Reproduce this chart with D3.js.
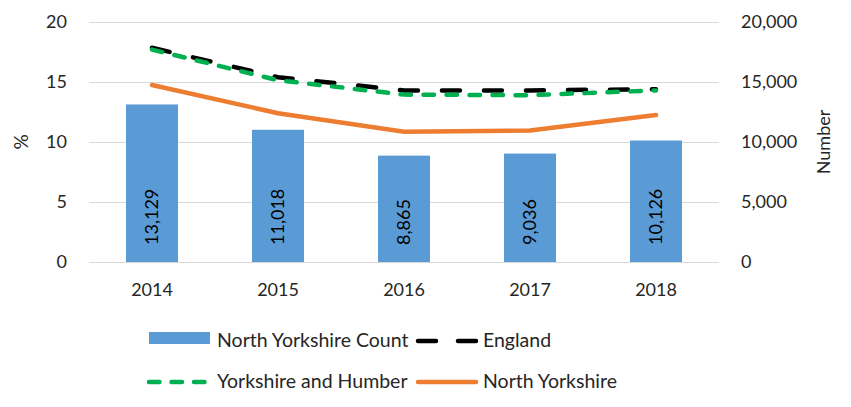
<!DOCTYPE html>
<html>
<head>
<meta charset="utf-8">
<script src="https://cdn.jsdelivr.net/npm/d3@7"></script>
<style>
  body { margin: 0; background: #fff; }
  text { font-family: Lato, "Open Sans", sans-serif; fill: #262626; }
</style>
</head>
<body>
<svg id="chart" width="851" height="407"></svg>
<script>
// data
const years = ["2014", "2015", "2016", "2017", "2018"];
const nyCount = [13129, 11018, 8865, 9036, 10126];
const england = [17.85, 15.4, 14.3, 14.3, 14.4];
const yorksHumber = [17.7, 15.15, 13.95, 13.9, 14.3];
const northYorks = [14.75, 12.4, 10.85, 10.95, 12.25];
const leftTicks = [0, 5, 10, 15, 20];
const rightTicks = [0, 5000, 10000, 15000, 20000];

const svg = d3.select("#chart");

const x = d3.scaleBand().domain(years).range([89, 719]).padding(0);
const yL = d3.scaleLinear().domain([0, 20]).range([262, 22]);
const yR = d3.scaleLinear().domain([0, 20000]).range([262, 22]);
const fmt = d3.format(",");

// gridlines
svg.append("g")
  .attr("transform", "translate(89,0)")
  .call(d3.axisLeft(yL).tickValues(leftTicks).tickSize(-630).tickFormat(""))
  .call(g => g.select(".domain").remove())
  .call(g => g.selectAll("line").attr("stroke", "#d9d9d9"));

// left axis labels
svg.append("g")
  .attr("transform", "translate(89,0)")
  .call(d3.axisLeft(yL).tickValues(leftTicks).tickSize(0).tickPadding(22))
  .call(g => g.select(".domain").remove())
  .call(g => g.selectAll("text").attr("font-size", 18).attr("fill", "#262626")
    .style("font-family", "Lato, sans-serif"));

// right axis labels
svg.append("g")
  .attr("transform", "translate(719,0)")
  .call(d3.axisRight(yR).tickValues(rightTicks).tickSize(0).tickPadding(22).tickFormat(fmt))
  .call(g => g.select(".domain").remove())
  .call(g => g.selectAll("text").attr("font-size", 18).attr("fill", "#262626")
    .style("font-family", "Lato, sans-serif"));

// x axis labels
svg.append("g")
  .attr("transform", "translate(0,262)")
  .call(d3.axisBottom(x).tickSize(0).tickPadding(21))
  .call(g => g.select(".domain").remove())
  .call(g => g.selectAll("text").attr("font-size", 18).attr("fill", "#262626")
    .style("font-family", "Lato, sans-serif"));

// axis titles
svg.append("text")
  .attr("transform", "translate(28,142) rotate(-90)")
  .attr("text-anchor", "middle")
  .attr("font-size", 19)
  .text("%");
svg.append("text")
  .attr("transform", "translate(830,142) rotate(-90)")
  .attr("text-anchor", "middle")
  .attr("font-size", 18)
  .text("Number");

// bars
const barW = 52;
svg.append("g").selectAll("rect")
  .data(nyCount)
  .join("rect")
  .attr("x", (d, i) => x(years[i]) + x.bandwidth() / 2 - barW / 2)
  .attr("y", d => yR(d))
  .attr("width", barW)
  .attr("height", d => yR(0) - yR(d))
  .attr("fill", "#5b9bd5");

// bar labels
svg.append("g").selectAll("text")
  .data(nyCount)
  .join("text")
  .attr("transform", (d, i) => `translate(${x(years[i]) + x.bandwidth() / 2 + 6},${yR(0) - 17}) rotate(-90)`)
  .attr("font-size", 18)
  .style("fill", "#000")
  .text(d => fmt(d));

// lines
const line = d3.line()
  .x((d, i) => x(years[i]) + x.bandwidth() / 2)
  .y(d => yL(d));

svg.append("path")
  .datum(england)
  .attr("d", line)
  .attr("fill", "none")
  .attr("stroke", "#000")
  .attr("stroke-width", 4.5)
  .attr("stroke-linecap", "round")
  .attr("stroke-dasharray", "18 24");

svg.append("path")
  .datum(yorksHumber)
  .attr("d", line)
  .attr("fill", "none")
  .attr("stroke", "#00b050")
  .attr("stroke-width", 4.5)
  .attr("stroke-linecap", "round")
  .attr("stroke-dasharray", "10.5 12.5");

svg.append("path")
  .datum(northYorks)
  .attr("d", line)
  .attr("fill", "none")
  .attr("stroke", "#ed7d31")
  .attr("stroke-width", 4.5)
  .attr("stroke-linecap", "round");

// legend
const legend = svg.append("g");
// row 1
legend.append("rect").attr("x", 149).attr("y", 332).attr("width", 61).attr("height", 12).attr("fill", "#5b9bd5");
legend.append("text").attr("x", 217).attr("y", 347).attr("font-size", 19.5).text("North Yorkshire Count");
legend.append("line").attr("x1", 418).attr("x2", 476).attr("y1", 341).attr("y2", 341)
  .attr("stroke", "#000").attr("stroke-width", 4.5).attr("stroke-linecap", "round")
  .attr("stroke-dasharray", "18 22");
legend.append("text").attr("x", 483).attr("y", 347).attr("font-size", 19.5).text("England");
// row 2
legend.append("line").attr("x1", 149).attr("x2", 208).attr("y1", 382).attr("y2", 382)
  .attr("stroke", "#00b050").attr("stroke-width", 4.5).attr("stroke-linecap", "round")
  .attr("stroke-dasharray", "10.5 12");
legend.append("text").attr("x", 217).attr("y", 388).attr("font-size", 19.5).text("Yorkshire and Humber");
legend.append("line").attr("x1", 418).attr("x2", 476).attr("y1", 382).attr("y2", 382)
  .attr("stroke", "#ed7d31").attr("stroke-width", 4.5).attr("stroke-linecap", "round");
legend.append("text").attr("x", 483).attr("y", 388).attr("font-size", 19.5).text("North Yorkshire");
</script>
</body>
</html>
